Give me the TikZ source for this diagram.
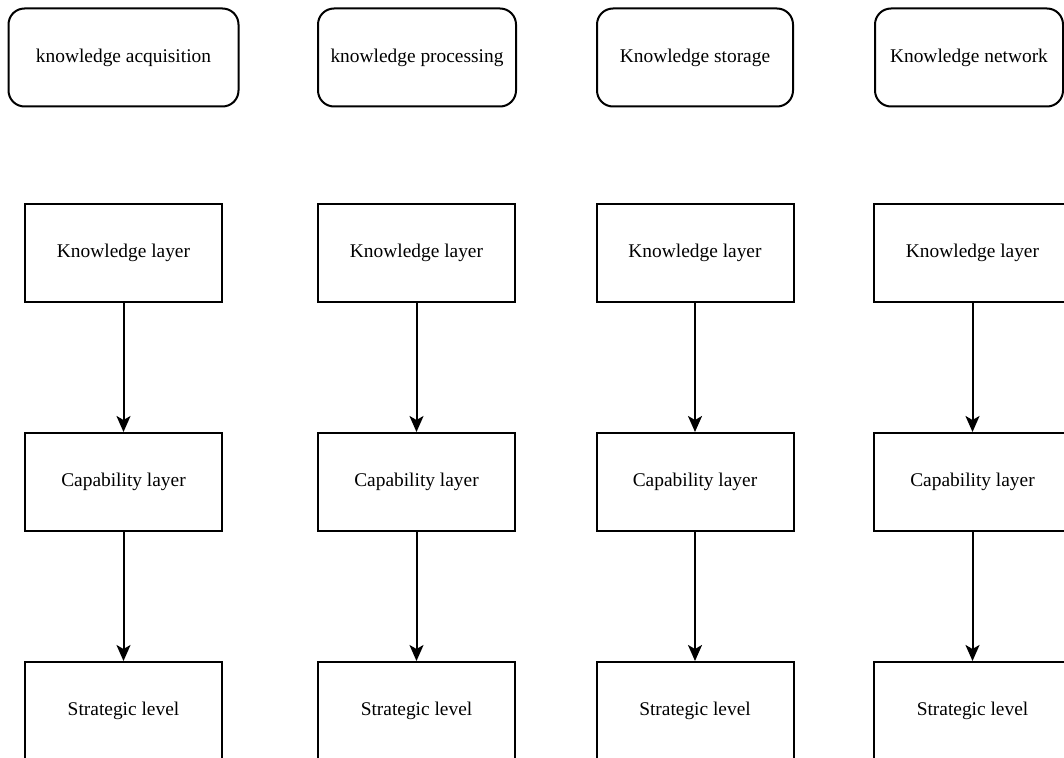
\documentclass[tikz,border=0pt]{standalone}
\usepackage{fontspec}
\setmainfont{Liberation Serif}
\usepackage{tikz}
\usetikzlibrary{arrows.meta, positioning}

\begin{document}
\begin{tikzpicture}[
  x=1pt, y=-1pt,
  every node/.style={font=\fontsize{19.4}{23}\selectfont},
  phase/.style={draw, line width=2pt, rounded corners=16pt, minimum height=98pt, align=center, inner sep=0pt},
  layer/.style={draw, line width=2pt, minimum width=197pt, minimum height=98pt, align=center, inner sep=0pt},
  flow/.style={-{Stealth[length=16pt, width=14pt, inset=4pt]}, line width=2pt}
]
  \useasboundingbox (0,0) rectangle (1064,757);
  \clip (0,0) rectangle (1064,757);

  % top row
  \node[phase, minimum width=230pt] (acq) at (123.5, 57.5) {knowledge acquisition};
  \node[phase, minimum width=198pt] (proc) at (417, 57.5) {knowledge processing};
  \node[phase, minimum width=196pt] (stor) at (695, 57.5) {Knowledge storage};
  \node[phase, minimum width=188pt] (netw) at (969, 57.5) {Knowledge network};

  % column 1
  \node[layer] (know1) at (123.5, 253) {Knowledge layer};
  \node[layer] (cap1) at (123.5, 482) {Capability layer};
  \node[layer] (strat1) at (123.5, 711) {Strategic level};

  % column 2
  \node[layer] (know2) at (416.5, 253) {Knowledge layer};
  \node[layer] (cap2) at (416.5, 482) {Capability layer};
  \node[layer] (strat2) at (416.5, 711) {Strategic level};

  % column 3
  \node[layer] (know3) at (695, 253) {Knowledge layer};
  \node[layer] (cap3) at (695, 482) {Capability layer};
  \node[layer] (strat3) at (695, 711) {Strategic level};

  % column 4
  \node[layer] (know4) at (972.5, 253) {Knowledge layer};
  \node[layer] (cap4) at (972.5, 482) {Capability layer};
  \node[layer] (strat4) at (972.5, 711) {Strategic level};

  \draw[flow] (know1) -- (cap1);
  \draw[flow] (cap1) -- (strat1);
  \draw[flow] (know2) -- (cap2);
  \draw[flow] (cap2) -- (strat2);
  \draw[flow] (know3) -- (cap3);
  \draw[flow] (cap3) -- (strat3);
  \draw[flow] (know4) -- (cap4);
  \draw[flow] (cap4) -- (strat4);
\end{tikzpicture}
\end{document}
